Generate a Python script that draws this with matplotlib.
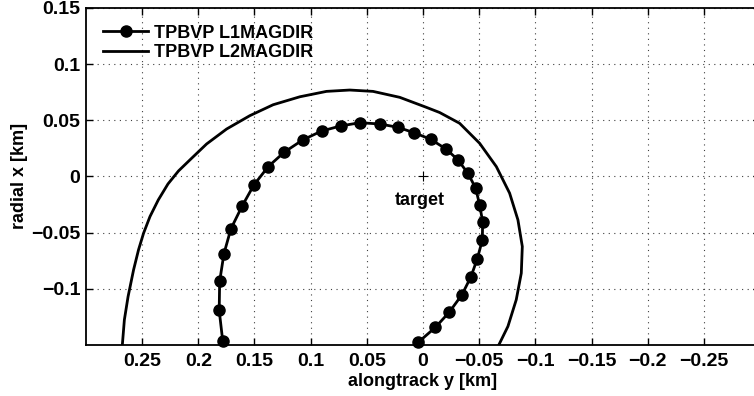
import matplotlib.pyplot as plt

plt.rcParams["font.family"] = ["Liberation Sans", "DejaVu Sans"]
plt.rcParams["font.weight"] = "bold"
plt.rcParams["axes.labelweight"] = "bold"
plt.rcParams["font.size"] = 14

# trajectories in the target frame: alongtrack y [km], radial x [km]
l1_y = [0.1783, 0.1814, 0.1810, 0.1772, 0.1710, 0.1609, 0.1505, 0.1378, 0.1236, 0.1072,
        0.0903, 0.0734, 0.0563, 0.0385, 0.0222, 0.0080, -0.0068, -0.0208, -0.0311, -0.0400,
        -0.0469, -0.0504, -0.0531, -0.0528, -0.0484, -0.0427, -0.0347, -0.0235, -0.0110, 0.0044]
l1_x = [-0.1462, -0.1193, -0.0935, -0.0689, -0.0467, -0.0262, -0.0076, 0.0087, 0.0215, 0.0324,
        0.0404, 0.0449, 0.0478, 0.0467, 0.0437, 0.0389, 0.0331, 0.0242, 0.0147, 0.0028,
        -0.0105, -0.0253, -0.0404, -0.0567, -0.0731, -0.0893, -0.1053, -0.1207, -0.1344, -0.1478]

l2_y = [0.2676, 0.2658, 0.2625, 0.2576, 0.2532, 0.2487, 0.2430, 0.2356, 0.2270, 0.2176,
        0.2059, 0.1926, 0.1748, 0.1541, 0.1334, 0.1096, 0.0859, 0.0652, 0.0445, 0.0207,
        -0.0030, -0.0148, -0.0326, -0.0504, -0.0653, -0.0771, -0.0845, -0.0884, -0.0875,
        -0.0830, -0.0756, -0.0676]
l2_x = [-0.1498, -0.1276, -0.1069, -0.0831, -0.0653, -0.0505, -0.0357, -0.0209, -0.0067, 0.0049,
        0.0162, 0.0289, 0.0422, 0.0541, 0.0638, 0.0709, 0.0757, 0.0769, 0.0757, 0.0704,
        0.0615, 0.0569, 0.0473, 0.0295, 0.0087, -0.0149, -0.0387, -0.0624, -0.0861,
        -0.1098, -0.1335, -0.1498]

xticks = [0.25, 0.2, 0.15, 0.1, 0.05, 0, -0.05, -0.1, -0.15, -0.2, -0.25]
xtick_labels = ["0.25", "0.2", "0.15", "0.1", "0.05", "0", "\u22120.05", "\u22120.1",
                "\u22120.15", "\u22120.2", "\u22120.25"]
yticks = [0.15, 0.1, 0.05, 0, -0.05, -0.1]
ytick_labels = ["0.15", "0.1", "0.05", "0", "\u22120.05", "\u22120.1"]

fig = plt.figure(figsize=(7.54, 3.96), dpi=100)
ax = fig.add_axes([0.114, 0.129, 0.894, 0.851])

ax.plot(l1_y, l1_x, "k-o", lw=2, ms=8, label="TPBVP L1MAGDIR", clip_on=False, zorder=3)
ax.plot(l2_y, l2_x, "k-", lw=2, label="TPBVP L2MAGDIR", zorder=3)

# target at the origin
ax.plot([0], [0], "k+", ms=7, mew=0.8)
ax.text(0.003, -0.021, "target", ha="center", va="center", fontsize=13)

ax.set_xlim(0.3, -0.3)
ax.set_ylim(-0.15, 0.15)
ax.set_xticks(xticks)
ax.set_xticklabels(xtick_labels)
ax.set_yticks(yticks)
ax.set_yticklabels(ytick_labels)
ax.tick_params(direction="in", length=5, width=1, top=True, right=True)
ax.tick_params(axis="x", pad=6)
ax.tick_params(axis="y", pad=4)
ax.grid(True, linestyle=(0, (1, 4)), color="0.25", lw=0.8)
for s in ax.spines.values():
    s.set_linewidth(1.3)

ax.set_xlabel("alongtrack y [km]", fontsize=13, labelpad=2)
ax.set_ylabel("radial x [km]", fontsize=13, labelpad=2)

leg = ax.legend(loc="upper left", frameon=False, prop={"size": 13, "weight": "bold"},
                handlelength=2.5, handletextpad=0.3, labelspacing=0.15,
                borderaxespad=0.0, bbox_to_anchor=(0.015, 0.972))

fig.savefig("out.png", dpi=100)
